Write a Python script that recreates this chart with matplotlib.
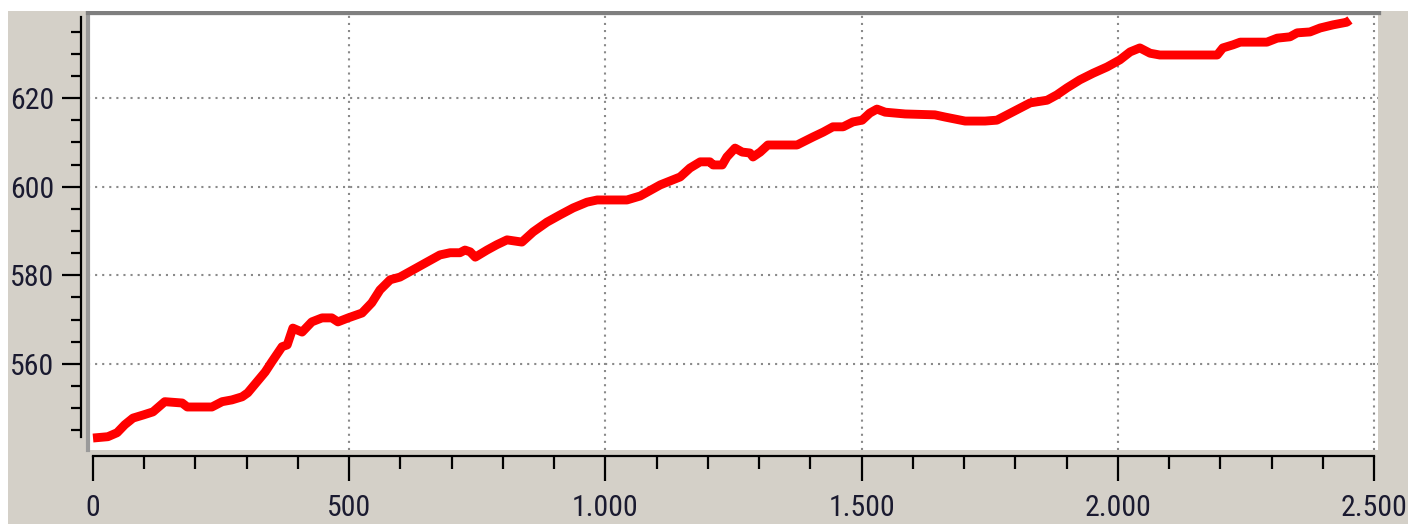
import matplotlib
matplotlib.use("Agg")
import logging
logging.getLogger('matplotlib.font_manager').setLevel(logging.ERROR)
import matplotlib.pyplot as plt
from matplotlib.patches import Rectangle
from matplotlib.ticker import MultipleLocator, FixedLocator

# ---- data ----
x_vals = [0, 29, 47, 62, 78, 98, 117, 140, 174, 184, 232, 252, 271, 291, 302, 336, 349,
          369, 379, 390, 408, 427, 447, 466, 478, 498, 525, 544, 560, 580, 599, 624, 652,
          677, 697, 716, 726, 736, 746, 769, 788, 808, 837, 859, 886, 911, 937, 964, 984,
          1042, 1068, 1107, 1146, 1165, 1185, 1204, 1210, 1228, 1237, 1253, 1267, 1282, 1288,
          1302, 1317, 1341, 1374, 1386, 1405, 1425, 1444, 1464, 1483, 1501, 1516, 1530, 1546,
          1585, 1643, 1663, 1702, 1741, 1764, 1784, 1809, 1829, 1862, 1881, 1901, 1926, 1952,
          1979, 2004, 2024, 2043, 2063, 2082, 2194, 2205, 2225, 2239, 2291, 2311, 2336, 2350,
          2375, 2395, 2420, 2447, 2453]
y_vals = [543.3, 543.6, 544.5, 546.3, 547.8, 548.5, 549.2, 551.5, 551.2, 550.3, 550.3, 551.5,
          551.9, 552.6, 553.5, 558.2, 560.5, 563.9, 564.3, 568.1, 567.2, 569.5, 570.4, 570.4,
          569.5, 570.4, 571.5, 573.8, 576.7, 579.0, 579.6, 581.2, 583.0, 584.6, 585.1, 585.1,
          585.7, 585.3, 584.1, 585.7, 586.9, 588.0, 587.5, 589.8, 592.0, 593.6, 595.2, 596.5,
          597.0, 597.0, 597.9, 600.4, 602.2, 604.2, 605.6, 605.6, 604.9, 604.9, 606.7, 608.7,
          607.8, 607.6, 606.7, 607.8, 609.4, 609.4, 609.4, 610.1, 611.2, 612.3, 613.5, 613.5,
          614.6, 615.0, 616.6, 617.5, 616.8, 616.4, 616.2, 615.7, 614.8, 614.8, 615.0, 616.2,
          617.7, 618.9, 619.5, 620.7, 622.3, 624.1, 625.6, 627.0, 628.6, 630.4, 631.3, 630.1,
          629.7, 629.7, 631.3, 632.0, 632.6, 632.6, 633.5, 633.8, 634.7, 634.9, 635.8, 636.5,
          637.1, 637.6]

x_tick_values = [0, 500, 1000, 1500, 2000, 2500]
x_tick_labels = ['0', '500', '1.000', '1.500', '2.000', '2.500']
y_tick_values = [560, 580, 600, 620]
y_tick_labels = ['560', '580', '600', '620']

# ---- layout ----
W, H = 1408, 524
BG = '#d4d0c8'
XLIM = (-9.8, 2507.8)
YLIM = (540.6, 639.4)
FONT = ['Roboto Condensed', 'DejaVu Sans Condensed', 'Liberation Sans Narrow',
        'Liberation Sans', 'DejaVu Sans']
LABEL_COLOR = '#1a1a30'
LABEL_SIZE = 21.5

fig = plt.figure(figsize=(W / 100, H / 100), dpi=100, facecolor=BG)

# white strips at the top and left edges of the screenshot
fig.patches.append(Rectangle((0, 1 - 11 / H), 1, 11 / H, transform=fig.transFigure,
                             facecolor='white', edgecolor='none', zorder=0))
fig.patches.append(Rectangle((0, 0), 8 / W, 1, transform=fig.transFigure,
                             facecolor='white', edgecolor='none', zorder=0))

def fx(px):
    return px / W

def fy(py):
    return 1 - py / H

ax_left, ax_right = 88, 1378
ax_top, ax_bottom = 12, 450
ax = fig.add_axes([fx(ax_left), fy(ax_bottom), fx(ax_right - ax_left),
                   (ax_bottom - ax_top) / H])
ax.set_facecolor('white')
ax.set_xlim(*XLIM)
ax.set_ylim(*YLIM)
ax.tick_params(left=False, bottom=False, labelleft=False, labelbottom=False)
ax.spines['right'].set_visible(False)
ax.spines['bottom'].set_visible(False)
ax.spines['top'].set_color('#7f7f7f')
ax.spines['top'].set_linewidth(3.8)
ax.spines['left'].set_color('#9a9a9a')
ax.spines['left'].set_linewidth(3)

# dotted grid
for gx in x_tick_values[1:]:
    ax.axvline(gx, color='#8a8a8a', linewidth=1.5, linestyle=(0, (1, 2.4)), zorder=1)
for gy in y_tick_values:
    ax.axhline(gy, color='#8a8a8a', linewidth=1.5, linestyle=(0, (1, 2.4)), zorder=1)

ax.plot(x_vals, y_vals, color='#ff0000', linewidth=6.4, solid_joinstyle='round',
        solid_capstyle='butt', zorder=3)

# detached y axis
yax = fig.add_axes([fx(81), fy(ax_bottom), 0.004, (ax_bottom - ax_top) / H])
yax.patch.set_visible(False)
yax.set_ylim(*YLIM)
for s in ['top', 'right', 'bottom']:
    yax.spines[s].set_visible(False)
yax.spines['left'].set_linewidth(1.6)
yax.spines['left'].set_color('black')
yax.spines['left'].set_bounds(543.6, 638.3)
yax.set_xticks([])
yax.set_yticks(y_tick_values)
yax.set_yticklabels(y_tick_labels)
yax.yaxis.set_minor_locator(FixedLocator([v for v in range(545, 640, 5) if v % 20 != 0]))
yax.tick_params(axis='y', which='major', length=14, width=1.6, color='black', pad=5.5,
                labelsize=LABEL_SIZE, labelcolor=LABEL_COLOR)
yax.tick_params(axis='y', which='minor', length=7, width=1.6, color='black')
for lab in yax.get_yticklabels():
    lab.set_family(FONT)

# detached x axis
xax = fig.add_axes([fx(ax_left), fy(456), fx(ax_right - ax_left), 0.004])
xax.patch.set_visible(False)
xax.set_xlim(*XLIM)
for s in ['top', 'right', 'left']:
    xax.spines[s].set_visible(False)
xax.spines['bottom'].set_linewidth(1.6)
xax.spines['bottom'].set_color('black')
xax.spines['bottom'].set_bounds(0, 2500)
xax.set_yticks([])
xax.set_xticks(x_tick_values)
xax.set_xticklabels(x_tick_labels)
xax.xaxis.set_minor_locator(MultipleLocator(100))
xax.tick_params(axis='x', which='major', length=18, width=1.6, color='black', pad=9,
                labelsize=LABEL_SIZE, labelcolor=LABEL_COLOR)
xax.tick_params(axis='x', which='minor', length=9.5, width=1.6, color='black')
for lab in xax.get_xticklabels():
    lab.set_family(FONT)

fig.savefig('out.png', dpi=100, facecolor=BG)
